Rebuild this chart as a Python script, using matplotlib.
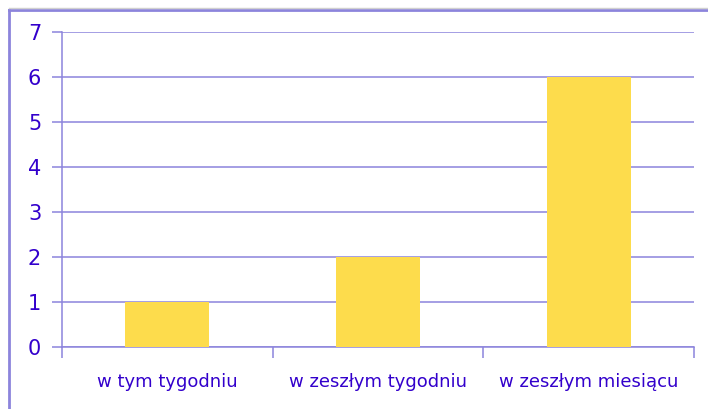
import matplotlib.pyplot as plt
from matplotlib.lines import Line2D

categories = ['w tym tygodniu', 'w zeszłym tygodniu', 'w zeszłym miesiącu']
values = [1, 2, 6]

W, H = 708, 409
line_col = '#8C84DC'
text_col = '#3300CC'
bar_col = '#FDDC4C'

fig = plt.figure(figsize=(W / 100, H / 100), dpi=100)
ax = fig.add_axes([62 / W, 1 - 347 / H, (694 - 62) / W, (347 - 32) / H])

x = range(len(categories))
ax.bar(x, values, width=0.4, color=bar_col, zorder=3)
ax.set_xlim(-0.5, len(categories) - 0.5)
ax.set_ylim(0, 7)
ax.set_yticks(range(8))
ax.yaxis.grid(True, color=line_col, linewidth=1.1, zorder=0)
ax.set_xticks([i - 0.5 for i in range(len(categories) + 1)])
ax.set_xticklabels([])
ax.set_xticks(list(x), minor=True)
ax.set_xticklabels(categories, minor=True)
ax.tick_params(axis='x', which='major', length=8, color=line_col, width=1.1)
ax.tick_params(axis='x', which='minor', length=0, pad=19, labelsize=13, labelcolor=text_col)
ax.tick_params(axis='y', length=7, color=line_col, width=1.1, pad=8,
               labelsize=15, labelcolor=text_col)
for side in ['top', 'right']:
    ax.spines[side].set_visible(False)
for side in ['left', 'bottom']:
    ax.spines[side].set_color(line_col)
    ax.spines[side].set_linewidth(1.1)

# outer frame
fig.add_artist(Line2D([9 / W, 9 / W], [0, 1 - 10 / H], color=line_col, linewidth=2))
fig.add_artist(Line2D([9 / W, 1], [1 - 10 / H, 1 - 10 / H], color=line_col, linewidth=2))
fig.add_artist(Line2D([9 / W, 1], [1 - 8 / H, 1 - 8 / H], color='#D0D0D0', linewidth=1))

fig.savefig('out.png', dpi=100)
